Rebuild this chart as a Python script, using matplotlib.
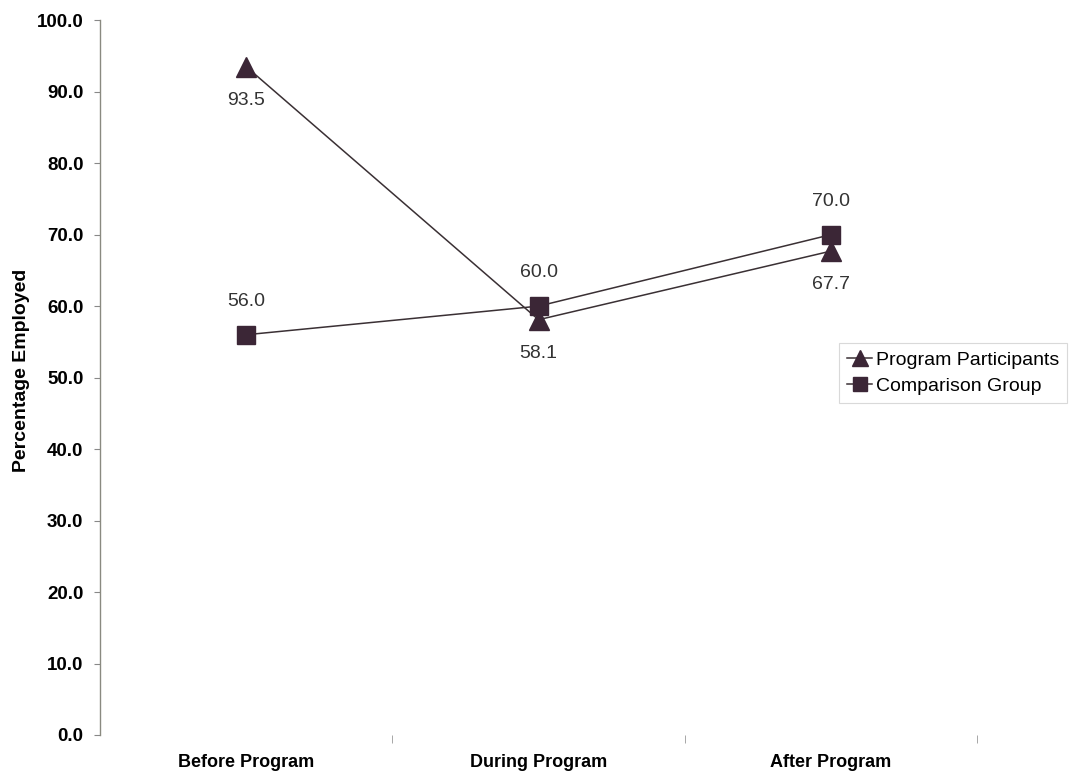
import matplotlib.pyplot as plt

# data
periods = ['Before Program', 'During Program', 'After Program']
participants = [93.5, 58.1, 67.7]
comparison = [56.0, 60.0, 70.0]

plt.rcParams['font.family'] = ['Liberation Sans', 'DejaVu Sans']

fig = plt.figure(figsize=(10.76, 7.79), dpi=100)
ax = fig.add_axes([0.093, 0.0565, 0.815, 0.9175])

line_col = '#3a3034'
mark_col = '#3b2636'
x = range(len(periods))

ax.plot(x, participants, color=line_col, lw=1.1, marker='^', ms=14,
        mfc=mark_col, mec=mark_col, label='Program Participants')
ax.plot(x, comparison, color=line_col, lw=1.1, marker='s', ms=13,
        mfc=mark_col, mec=mark_col, label='Comparison Group')

# value labels: participants below, comparison above
for i, v in enumerate(participants):
    ax.annotate(f'{v:.1f}', (i, v), xytext=(0, -24), textcoords='offset points',
                ha='center', va='center', fontsize=14, color='#333333')
for i, v in enumerate(comparison):
    ax.annotate(f'{v:.1f}', (i, v), xytext=(0, 24), textcoords='offset points',
                ha='center', va='center', fontsize=14, color='#333333')

ax.set_xlim(-0.5, 2.5)
ax.set_ylim(0, 100)
ax.set_yticks(range(0, 101, 10))
ax.set_yticklabels([f'{t:.1f}' for t in range(0, 101, 10)], fontsize=13.5, fontweight='bold')
ax.set_xticks(list(x))
ax.set_xticklabels(periods, fontsize=13, fontweight='bold')
ax.tick_params(axis='x', length=0, pad=14)
ax.set_xticks([0.5, 1.5, 2.5], minor=True)
ax.tick_params(axis='x', which='minor', length=6, color='#999999')
ax.tick_params(axis='y', length=4, color='#888888', pad=8)

ax.set_ylabel('Percentage Employed', fontsize=14, fontweight='bold')
ax.yaxis.set_label_coords(-0.08, 0.51)

for s in ['top', 'right', 'bottom']:
    ax.spines[s].set_visible(False)
ax.spines['left'].set_color('#8a8a80')
ax.spines['left'].set_linewidth(1.0)

leg = ax.legend(loc='upper left', bbox_to_anchor=(0.771, 0.572),
                bbox_transform=fig.transFigure, fontsize=14, frameon=True,
                fancybox=False, handlelength=1.3, handletextpad=0.2,
                borderpad=0.4, labelspacing=0.45, markerscale=0.8)
leg.get_frame().set_edgecolor('#d0d0d0')
leg.get_frame().set_linewidth(0.8)

fig.savefig('out.png', dpi=100)
